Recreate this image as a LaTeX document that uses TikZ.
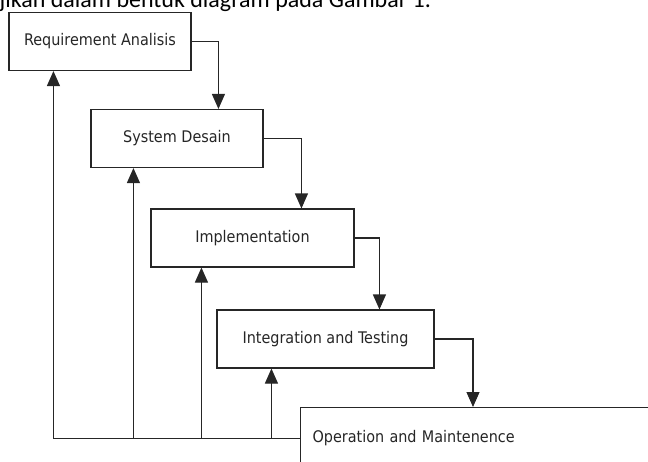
\documentclass[tikz,border=0pt]{standalone}
\usepackage{fontspec}
\setmainfont{DejaVu Sans Condensed}
\newfontfamily\bodyfont{Carlito}
\usetikzlibrary{arrows.meta}
\begin{document}
\begin{tikzpicture}[x=1pt, y=-1pt, line width=1.1pt]
\tikzstyle{phase} = [draw=black!85, minimum height=58pt, inner sep=0pt, font=\fontsize{16}{18}\selectfont, text=black!85]
\tikzstyle{flow} = [draw=black!85, -{Triangle[width=13pt,length=15pt]}]

\useasboundingbox (0,0) rectangle (648,461);
\begin{scope}
\clip (0,0) rectangle (648,461);
\node (caption) [anchor=base west, font=\bodyfont\fontsize{24}{28}\selectfont, inner sep=0pt] at (-1,7) {jikan dalam bentuk diagram pada Gambar 1.};

\node (Requirement) [phase, minimum width=182pt] at (100,41.5) {Requirement Analisis};
\node (Design) [phase, minimum width=172pt] at (177,138.5) {System Desain};
\node (Implementation) [phase, minimum width=203pt] at (252.5,238) {Implementation};
\node (Integration) [phase, minimum width=217pt] at (325.5,339) {Integration and Testing};
\node (Operation) [phase, anchor=north west, minimum height=62pt, text width=338pt, inner xsep=12pt, align=left] at (300,407) {Operation and Maintenence};

% waterfall
\draw[flow] (Requirement.east) -| ([xshift=128]Design.north west);
\draw[flow] (Design.east) -| ([xshift=151]Implementation.north west);
\draw[flow] (Implementation.east) -| ([xshift=163]Integration.north west);
\draw[flow] (Integration.east) -| ([xshift=173]Operation.north west);

% feedback
\coordinate (BackReq) at ([xshift=45]Requirement.south west);
\coordinate (BackDes) at ([xshift=43]Design.south west);
\coordinate (BackImp) at ([xshift=51]Implementation.south west);
\coordinate (BackInt) at ([xshift=55]Integration.south west);
\draw[flow] (Operation.west) -| (BackReq);
\draw[flow] (Operation.west -| BackDes) -- (BackDes);
\draw[flow] (Operation.west -| BackImp) -- (BackImp);
\draw[flow] (Operation.west -| BackInt) -- (BackInt);
\end{scope}
\end{tikzpicture}
\end{document}
